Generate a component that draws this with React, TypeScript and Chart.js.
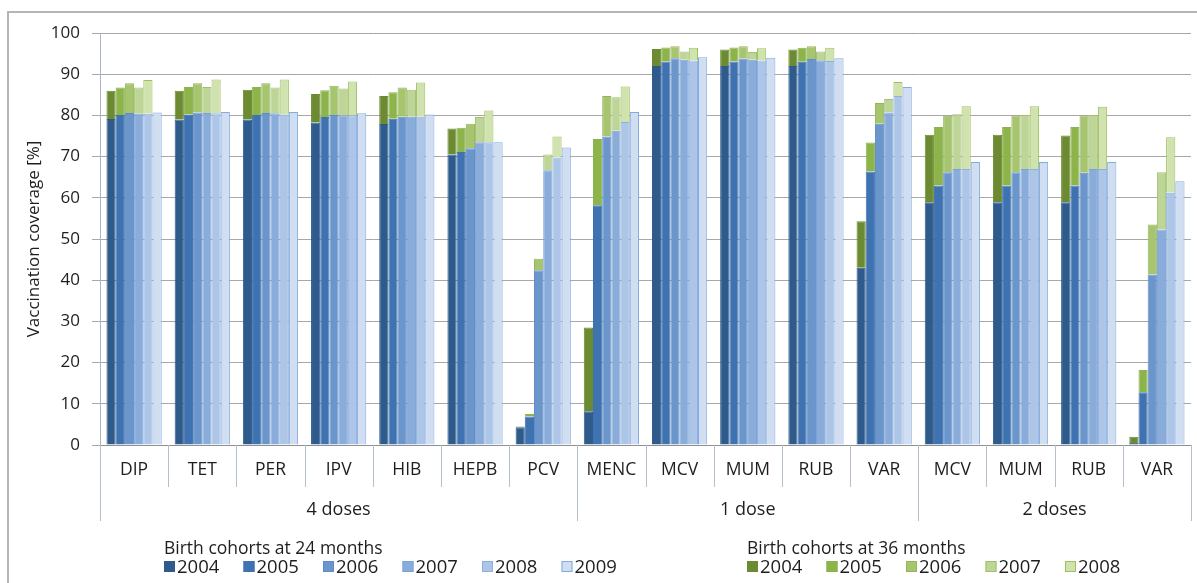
import React, { useEffect, useRef } from 'react';
import { Chart, registerables } from 'chart.js';

Chart.register(...registerables);

const categories = ['DIP', 'TET', 'PER', 'IPV', 'HIB', 'HEPB', 'PCV', 'MENC', 'MCV', 'MUM', 'RUB', 'VAR', 'MCV', 'MUM', 'RUB', 'VAR'];
const doseGroups = ['4 doses', '1 dose', '2 doses'];
const doseGroupSpans = [7, 5, 4];
const yTicks = [0, 10, 20, 30, 40, 50, 60, 70, 80, 90, 100];
const yTitle = 'Vaccination coverage [%]';
const legendTitle24 = 'Birth cohorts at 24 months';
const legendTitle36 = 'Birth cohorts at 36 months';
const yearsAt24 = ['2004', '2005', '2006', '2007', '2008', '2009'];
const yearsAt36 = ['2004', '2005', '2006', '2007', '2008'];

// Coverage (%) at 24 months, by birth cohort
const cov24_2004 = [79.1, 79.0, 79.0, 78.3, 77.9, 70.5, 4.3, 8.2, 92.0, 92.0, 92.0, 43.0, 58.9, 58.9, 58.9, 0.5];
const cov24_2005 = [80.1, 80.2, 80.1, 79.6, 79.2, 71.1, 6.9, 58.2, 93.1, 93.1, 93.0, 66.4, 63.0, 63.0, 63.0, 12.8];
const cov24_2006 = [80.6, 80.7, 80.6, 80.1, 79.7, 72.0, 42.4, 74.9, 93.9, 93.8, 93.7, 78.0, 66.2, 66.2, 66.1, 41.4];
const cov24_2007 = [80.4, 80.6, 80.5, 80.0, 79.7, 73.5, 66.7, 76.3, 93.5, 93.5, 93.4, 80.7, 67.0, 67.0, 67.0, 52.3];
const cov24_2008 = [80.4, 80.5, 80.2, 80.0, 79.7, 73.5, 69.8, 78.4, 93.3, 93.3, 93.2, 84.7, 67.0, 67.0, 67.0, 61.2];
const cov24_2009 = [80.7, 80.8, 80.8, 80.5, 80.2, 73.5, 72.2, 80.8, 94.1, 94.0, 93.9, 86.9, 68.7, 68.7, 68.7, 64.0];

// Coverage (%) at 36 months, by birth cohort
const cov36_2004 = [86.0, 86.0, 86.2, 85.2, 84.7, 76.8, 4.5, 28.5, 96.1, 96.0, 96.0, 54.3, 75.3, 75.3, 75.1, 2.0];
const cov36_2005 = [86.8, 86.9, 86.9, 86.1, 85.6, 77.0, 7.5, 74.3, 96.5, 96.5, 96.4, 73.4, 77.2, 77.2, 77.2, 18.2];
const cov36_2006 = [87.8, 87.8, 87.8, 87.2, 86.8, 78.0, 45.2, 84.7, 96.8, 96.8, 96.8, 83.0, 79.9, 80.0, 80.0, 53.5];
const cov36_2007 = [86.8, 86.9, 86.8, 86.5, 86.2, 79.6, 70.5, 84.4, 95.5, 95.4, 95.5, 84.0, 80.3, 80.1, 80.1, 66.2];
const cov36_2008 = [88.6, 88.7, 88.7, 88.2, 88.0, 81.2, 74.9, 87.0, 96.4, 96.3, 96.4, 88.1, 82.2, 82.2, 82.1, 74.7];

const cov24 = [cov24_2004, cov24_2005, cov24_2006, cov24_2007, cov24_2008, cov24_2009];
const cov36 = [cov36_2004, cov36_2005, cov36_2006, cov36_2007, cov36_2008];

const blueFill = ['#2f5b8c', '#3e72b0', '#6b96cb', '#8aacda', '#adc5e6', '#d1def2'];
const blueLine = ['#2f5b8c', '#3e72b0', '#5f8cc6', '#7aa2d6', '#8db1df', '#82abdf'];
const greenFill = ['#6b8a31', '#8cb44b', '#a6c56e', '#bdd596', '#d0e3af'];
const greenLine = ['#6b8a31', '#8cb44b', '#94b55c', '#a2c070', '#9fc061'];

const FONT = "'Open Sans', sans-serif";
const TEXT = '#1e1e1e';

const decorPlugin = {
  id: 'decor',
  beforeDraw(chart: any) {
    const ctx = chart.ctx;
    ctx.save();
    ctx.fillStyle = '#ffffff';
    ctx.fillRect(0, 0, chart.width, chart.height);
    ctx.strokeStyle = '#b5b5b5';
    ctx.lineWidth = 2;
    ctx.beginPath();
    ctx.moveTo(8, chart.height);
    ctx.lineTo(8, 12);
    ctx.lineTo(chart.width, 12);
    ctx.stroke();
    ctx.restore();
  },
  afterDraw(chart: any) {
    const ctx = chart.ctx;
    const xs = chart.scales.x;
    const bottom = chart.chartArea.bottom;
    const step = xs.getPixelForValue(1) - xs.getPixelForValue(0);
    const start = xs.getPixelForValue(0) - step / 2;
    const groupEdges = [0];
    doseGroupSpans.forEach((s) => groupEdges.push(groupEdges[groupEdges.length - 1] + s));
    ctx.save();
    ctx.strokeStyle = '#b4bfcc';
    ctx.lineWidth = 1;
    for (let k = 0; k <= categories.length; k++) {
      const px = Math.round(start + k * step) + 0.5;
      const long = groupEdges.includes(k);
      ctx.beginPath();
      ctx.moveTo(px, bottom);
      ctx.lineTo(px, long ? 521 : 487);
      ctx.stroke();
    }
    ctx.fillStyle = TEXT;
    ctx.font = `18px ${FONT}`;
    ctx.textAlign = 'center';
    ctx.textBaseline = 'middle';
    for (let g = 0; g < doseGroups.length; g++) {
      const cx = start + ((groupEdges[g] + groupEdges[g + 1]) / 2) * step;
      ctx.fillText(doseGroups[g], cx, 510);
    }
    // legends
    const drawLegend = (x0: number, title: string, years: string[], fills: string[], lines: string[]) => {
      ctx.textAlign = 'left';
      ctx.textBaseline = 'alphabetic';
      ctx.fillStyle = TEXT;
      ctx.font = `17.5px ${FONT}`;
      ctx.fillText(title, x0, 554);
      ctx.font = `18.5px ${FONT}`;
      years.forEach((yr, i) => {
        const x = x0 + i * 79.5;
        ctx.fillStyle = fills[i];
        ctx.fillRect(x, 561, 11, 11);
        ctx.strokeStyle = lines[i];
        ctx.strokeRect(x + 0.5, 561.5, 10, 10);
        ctx.fillStyle = TEXT;
        ctx.fillText(yr, x + 13, 573);
      });
    };
    drawLegend(164, legendTitle24, yearsAt24, blueFill, blueLine);
    drawLegend(747, legendTitle36, yearsAt36, greenFill, greenLine);
    ctx.restore();
  },
};

export default function App() {
  const canvasRef = useRef<HTMLCanvasElement | null>(null);

  useEffect(() => {
    if (!canvasRef.current) return;
    const datasets: any[] = [];
    cov24.forEach((arr, i) => {
      datasets.push({
        label: `24 months ${yearsAt24[i]}`,
        data: arr,
        stack: `s${i}`,
        backgroundColor: blueFill[i],
        borderColor: blueLine[i],
        borderWidth: 1,
      });
    });
    cov36.forEach((arr, j) => {
      datasets.push({
        label: `36 months ${yearsAt36[j]}`,
        data: arr.map((v, k) => Math.max(0, v - cov24[j][k])),
        stack: `s${j}`,
        backgroundColor: greenFill[j],
        borderColor: greenLine[j],
        borderWidth: 1,
      });
    });

    const chart = new Chart(canvasRef.current, {
      type: 'bar',
      data: { labels: categories, datasets },
      plugins: [decorPlugin],
      options: {
        animation: false,
        responsive: true,
        maintainAspectRatio: false,
        layout: { padding: { left: 0, right: 6, top: 33, bottom: 0 } },
        datasets: { bar: { categoryPercentage: 0.81, barPercentage: 1.0 } },
        plugins: { legend: { display: false }, tooltip: { enabled: false } },
        scales: {
          x: {
            stacked: true,
            afterFit: (s: any) => { s.height = 138; },
            grid: { display: false, drawTicks: false },
            border: { display: true, color: '#8f8f8f', width: 1 },
            ticks: { color: TEXT, font: { family: FONT, size: 17.5 }, padding: 15, autoSkip: false, maxRotation: 0 },
          },
          y: {
            stacked: true,
            min: 0,
            max: 100,
            afterFit: (s: any) => { s.width = 100; },
            afterBuildTicks: (s: any) => { s.ticks = yTicks.map((v) => ({ value: v })); },
            grid: { color: '#a8a8a8', lineWidth: 1, tickLength: 8, drawTicks: true },
            border: { display: true, color: '#a9b6c6', width: 1 },
            ticks: { color: TEXT, font: { family: FONT, size: 17 }, padding: 12 },
            title: {
              display: true,
              text: yTitle,
              color: TEXT,
              font: { family: FONT, size: 17 },
              padding: { top: 24, bottom: 0 },
            },
          },
        },
      },
    });
    return () => chart.destroy();
  }, []);

  return (
    <div style={{ position: 'fixed', left: 0, top: 0, width: 1197, height: 583, background: '#fff' }}>
      <canvas ref={canvasRef} />
    </div>
  );
}
